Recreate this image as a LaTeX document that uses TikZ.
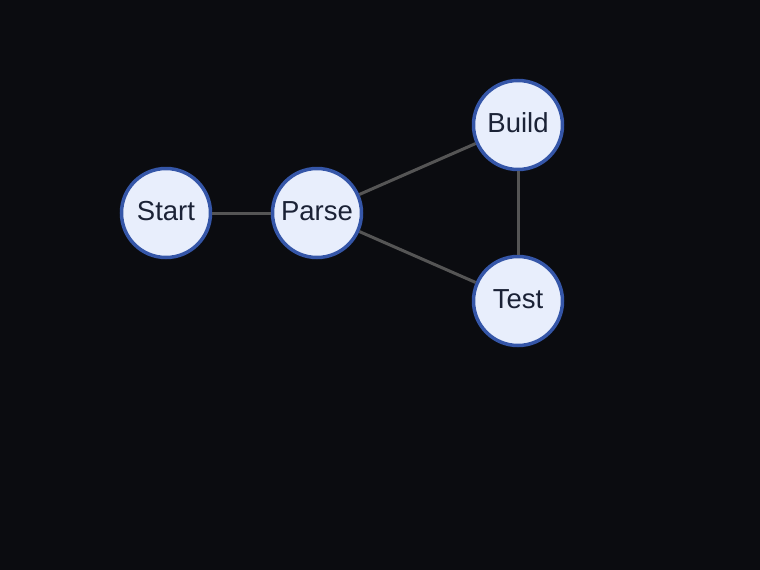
\documentclass[tikz,border=0pt]{standalone}
\usepackage{fontspec}
\setmainfont{Liberation Sans}
\definecolor{bg}{HTML}{0B0C10}
\definecolor{nodefill}{HTML}{E8EEFC}
\definecolor{nodeborder}{HTML}{3556A8}
\definecolor{nodetext}{HTML}{1B2236}
\definecolor{edgecol}{HTML}{555555}
\begin{document}
\begin{tikzpicture}[x=1pt,y=-1pt,
  vertex/.style={circle,draw=nodeborder,line width=3.5pt,fill=nodefill,minimum size=89pt,inner sep=0pt,text=nodetext,font=\fontsize{27.5}{30}\selectfont},
  lbl/.style={text=nodetext,font=\fontsize{27.5}{30}\selectfont,inner sep=0pt},
  link/.style={draw=edgecol,line width=3pt}]
\fill[bg] (0,0) rectangle (760,570);
\useasboundingbox (0,0) rectangle (760,570);
\node[vertex] (start) at (166,213) {};
\node[vertex] (parse) at (317,213) {};
\node[vertex] (build) at (518,125) {};
\node[vertex] (test) at (518,301) {};
\node[lbl] (startl) at (166,211) {Start};
\node[lbl] (parsel) at (317,211) {Parse};
\node[lbl] (buildl) at (518,123) {Build};
\node[lbl] (testl) at (518,299) {Test};
\draw[link] (start) -- (parse);
\draw[link] (parse) -- (build);
\draw[link] (parse) -- (test);
\draw[link] (build) -- (test);
\end{tikzpicture}
\end{document}
